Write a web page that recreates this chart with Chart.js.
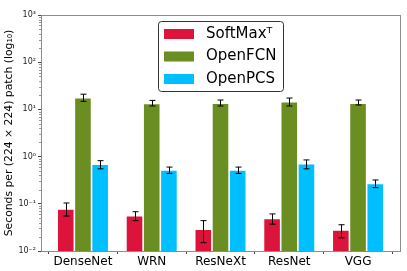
<!DOCTYPE html>
<html lang="en">
<head>
    <meta charset="UTF-8">
    <title>Seconds per patch</title>
    <script src="https://cdn.jsdelivr.net/npm/chart.js"></script>
    <style>
        html, body { margin: 0; padding: 0; background: #fff; }
        #wrap { width: 407px; height: 271px; }
    </style>
</head>
<body>
    <div id="wrap"><canvas id="timeChart"></canvas></div>

    <script>
        const models = ['DenseNet', 'WRN', 'ResNeXt', 'ResNet', 'VGG'];
        const seriesNames = ['SoftMax\u1D40', 'OpenFCN', 'OpenPCS'];
        const seriesColors = ['#DC143C', '#6B8E23', '#00BFFF'];

        const softmaxMean = [0.078, 0.056, 0.029, 0.049, 0.028];
        const softmaxLow  = [0.055, 0.044, 0.015, 0.037, 0.019];
        const softmaxHigh = [0.104, 0.068, 0.044, 0.061, 0.036];

        const fcnMean = [17.7, 13.4, 13.6, 14.6, 13.6];
        const fcnLow  = [14.8, 11.8, 11.8, 11.8, 12.4];
        const fcnHigh = [21.0, 15.5, 15.8, 17.4, 15.8];

        const pcsMean = [0.69, 0.52, 0.52, 0.71, 0.27];
        const pcsLow  = [0.55, 0.44, 0.44, 0.55, 0.22];
        const pcsHigh = [0.82, 0.60, 0.60, 0.85, 0.32];

        const yTicks = [0.01, 0.1, 1, 10, 100, 1000];
        const yTickLabels = ['10\u207B\u00B2', '10\u207B\u00B9', '10\u2070', '10\u00B9', '10\u00B2', '10\u00B3'];

        const means = [softmaxMean, fcnMean, pcsMean];
        const lows = [softmaxLow, fcnLow, pcsLow];
        const highs = [softmaxHigh, fcnHigh, pcsHigh];

        const datasets = seriesNames.map((name, s) => ({
            label: name,
            data: means[s].map((v, i) => ({ x: i, y: v })),
            backgroundColor: seriesColors[s],
            borderColor: 'rgba(255,255,255,0.35)',
            borderWidth: 0.8,
            borderSkipped: 'bottom',
            categoryPercentage: 0.75,
            barPercentage: 1.0
        }));

        // error bars, box around axes, minor ticks and legend
        const extras = {
            id: 'extras',
            afterDatasetsDraw(chart) {
                const ctx = chart.ctx;
                const y = chart.scales.y;
                ctx.save();
                ctx.strokeStyle = '#000';
                ctx.lineWidth = 1;
                chart.data.datasets.forEach((ds, s) => {
                    const meta = chart.getDatasetMeta(s);
                    meta.data.forEach((bar, i) => {
                        const x = Math.round(bar.x) + 0.5;
                        const yl = y.getPixelForValue(lows[s][i]);
                        const yh = y.getPixelForValue(highs[s][i]);
                        ctx.beginPath();
                        ctx.moveTo(x, yl); ctx.lineTo(x, yh);
                        ctx.moveTo(x - 3, yl); ctx.lineTo(x + 3, yl);
                        ctx.moveTo(x - 3, yh); ctx.lineTo(x + 3, yh);
                        ctx.stroke();
                    });
                });
                ctx.restore();
            },
            afterDraw(chart) {
                const ctx = chart.ctx;
                const a = chart.chartArea;
                const y = chart.scales.y;
                ctx.save();
                // minor log ticks
                ctx.strokeStyle = '#555';
                ctx.lineWidth = 0.6;
                for (let e = -2; e < 3; e++) {
                    for (let m = 2; m < 10; m++) {
                        const py = Math.round(y.getPixelForValue(m * Math.pow(10, e))) + 0.5;
                        ctx.beginPath();
                        ctx.moveTo(a.left - 2, py); ctx.lineTo(a.left, py);
                        ctx.stroke();
                    }
                }
                // axes box
                ctx.strokeStyle = '#8c8c8c';
                ctx.lineWidth = 1;
                ctx.strokeRect(Math.round(a.left) + 0.5, Math.round(a.top) + 0.5,
                    Math.round(a.right - a.left), Math.round(a.bottom - a.top));
                // legend
                const bx = 158.5, by = 21.5, bw = 125, bh = 70, r = 3;
                ctx.fillStyle = 'rgba(255,255,255,0.85)';
                ctx.strokeStyle = '#333';
                ctx.lineWidth = 1;
                ctx.beginPath();
                ctx.roundRect(bx, by, bw, bh, r);
                ctx.fill();
                ctx.stroke();
                ctx.font = '15px "DejaVu Sans"';
                ctx.textBaseline = 'middle';
                ctx.textAlign = 'left';
                seriesNames.forEach((name, s) => {
                    const cy = 34 + s * 22.5;
                    ctx.fillStyle = seriesColors[s];
                    ctx.fillRect(164, cy - 5, 30, 10);
                    ctx.fillStyle = '#000';
                    ctx.fillText(name, 206, cy);
                });
                ctx.restore();
            }
        };

        new Chart(document.getElementById('timeChart'), {
            type: 'bar',
            data: { datasets: datasets },
            options: {
                responsive: true,
                maintainAspectRatio: false,
                animation: false,
                layout: { padding: { top: 15, right: 7, left: 0, bottom: 0 } },
                plugins: { legend: { display: false }, tooltip: { enabled: false } },
                scales: {
                    x: {
                        type: 'linear',
                        min: -0.61,
                        max: 4.61,
                        offset: false,
                        afterBuildTicks(scale) {
                            scale.ticks = models.map((m, i) => ({ value: i }));
                        },
                        afterFit(scale) { scale.height = 20; },
                        ticks: {
                            autoSkip: false,
                            maxRotation: 0,
                            padding: 1,
                            color: '#000',
                            font: { family: 'DejaVu Sans', size: 12 },
                            callback: (v) => models[v]
                        },
                        grid: { drawOnChartArea: false, tickLength: 3, color: '#444' },
                        border: { display: false }
                    },
                    y: {
                        type: 'logarithmic',
                        min: 0.01,
                        max: 1000,
                        afterBuildTicks(scale) {
                            scale.ticks = yTicks.map(v => ({ value: v }));
                        },
                        afterFit(scale) { scale.width = 41; },
                        ticks: {
                            autoSkip: false,
                            padding: 2,
                            color: '#222',
                            font: { family: 'DejaVu Sans', size: 8 },
                            callback: (v) => yTickLabels[yTicks.indexOf(v)]
                        },
                        grid: { drawOnChartArea: false, tickLength: 3, color: '#444' },
                        border: { display: false },
                        title: {
                            display: true,
                            text: 'Seconds per (224 \u00D7 224) patch (log\u2081\u2080)',
                            color: '#000',
                            font: { family: 'DejaVu Sans', size: 10.8 },
                            padding: { top: 3, bottom: 0 }
                        }
                    }
                }
            },
            plugins: [extras]
        });
    </script>
</body>
</html>
